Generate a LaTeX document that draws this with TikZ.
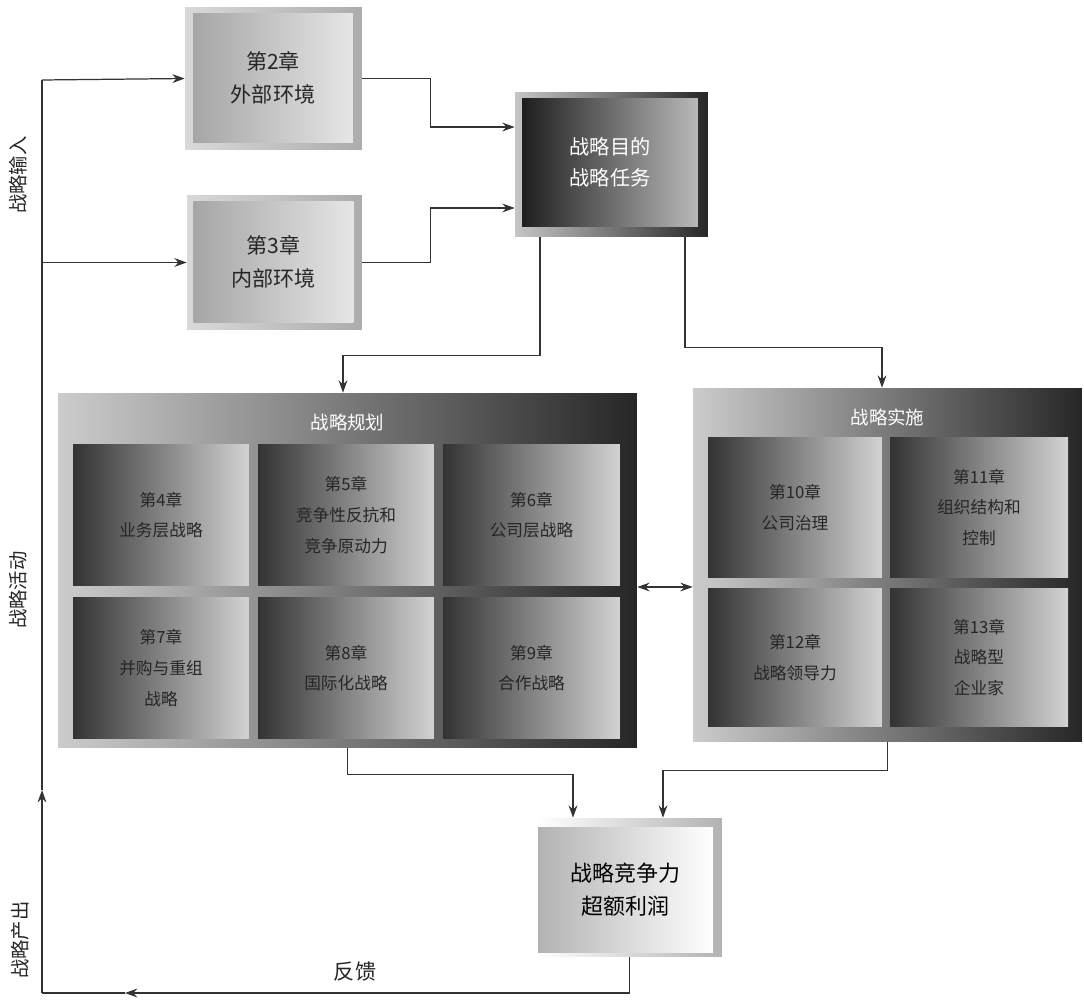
\documentclass[tikz,border=0pt]{standalone}
\usepackage{fontspec}
\setmainfont{Noto Sans CJK SC}
\usetikzlibrary{arrows.meta,positioning}

\begin{document}
\begin{tikzpicture}[x=0.02cm,y=-0.02cm,>={Stealth[length=7pt,width=5pt]},
 conn/.style={draw=black!80,line width=0.7pt},
 chfrm/.style={rectangle,inner sep=0pt,left color=gray!30,right color=gray!65},
 chface/.style={rectangle,inner sep=0pt,align=center,left color=gray!70,right color=gray!20,text=black!85,font=\fontsize{12}{19}\selectfont},
 gfrm/.style={rectangle,inner sep=0pt,left color=gray!45,right color=black!85},
 gface/.style={rectangle,inner sep=0pt,align=center,left color=black!88,right color=gray!55,text=white,font=\fontsize{11.5}{17.5}\selectfont},
 bigfrm/.style={rectangle,inner sep=0pt,left color=gray!40,right color=black!85},
 chapcell/.style={rectangle,inner sep=0pt,align=center,left color=black!80,right color=gray!35,text=black!85,font=\fontsize{9.5}{17.5}\selectfont},
 ttl/.style={text=white,font=\fontsize{10.5}{12}\selectfont},
 rfrm/.style={rectangle,inner sep=0pt,left color=white,right color=gray!60},
 rface/.style={rectangle,inner sep=0pt,align=center,left color=gray!60,right color=white,text=black,font=\fontsize{12.5}{19}\selectfont},
 sidelbl/.style={rotate=90,text=black!85,font=\fontsize{11}{13}\selectfont}]
\useasboundingbox (0,0) rectangle (1084,1000);

% inputs
\node[chfrm,minimum width=3.54cm,minimum height=2.86cm] (ch2) at (273.5,78.5) {};
\node[chface,minimum width=3.2cm,minimum height=2.6cm] at (273,78) {第2章\\外部环境};
\node[chfrm,minimum width=3.5cm,minimum height=2.7cm] (ch3) at (274.5,262.5) {};
\node[chface,minimum width=3.2cm,minimum height=2.44cm] at (273.5,262) {第3章\\内部环境};

\node[gfrm,minimum width=3.86cm,minimum height=2.9cm] (goal) at (611.5,164.5) {};
\node[gface,minimum width=3.52cm,minimum height=2.58cm] at (610,162.5) {战略目的\\战略任务};

% strategy formulation
\node[bigfrm,minimum width=11.58cm,minimum height=7.1cm] (plan) at (347.5,570.5) {};
\node[ttl,below=0.3cm of plan.north] {战略规划};
\node[chapcell,minimum width=3.52cm,minimum height=2.84cm] (c4) at (161,515) {第4章\\业务层战略};
\node[chapcell,minimum width=3.52cm,minimum height=2.84cm] (c5) at (346,515) {第5章\\竞争性反抗和\\竞争原动力};
\node[chapcell,minimum width=3.54cm,minimum height=2.84cm] (c6) at (531.5,515) {第6章\\公司层战略};
\node[chapcell,minimum width=3.52cm,minimum height=2.84cm] (c7) at (161,668) {第7章\\并购与重组\\战略};
\node[chapcell,minimum width=3.52cm,minimum height=2.84cm] (c8) at (346,668) {第8章\\国际化战略};
\node[chapcell,minimum width=3.54cm,minimum height=2.84cm] (c9) at (531.5,668) {第9章\\合作战略};

% strategy implementation
\node[bigfrm,minimum width=7.78cm,minimum height=7.08cm] (impl) at (887.5,565) {};
\node[ttl,below=0.3cm of impl.north] {战略实施};
\node[chapcell,minimum width=3.48cm,minimum height=2.82cm] (c10) at (795,507.5) {第10章\\公司治理};
\node[chapcell,minimum width=3.56cm,minimum height=2.82cm] (c11) at (979,507.5) {第11章\\组织结构和\\控制};
\node[chapcell,minimum width=3.48cm,minimum height=2.78cm] (c12) at (795,657.5) {第12章\\战略领导力};
\node[chapcell,minimum width=3.56cm,minimum height=2.78cm] (c13) at (979,657.5) {第13章\\战略型\\企业家};

% outcome
\node[rfrm,minimum width=3.7cm,minimum height=2.78cm] (res) at (629.5,887.5) {};
\node[rface,minimum width=3.5cm,minimum height=2.5cm] at (625.5,889.5) {战略竞争力\\超额利润};

% left loop
\coordinate (intop) at (42,80);
\coordinate (outtip) at (42,790);
\coordinate (fbend) at (42,993);
\coordinate (fbtip) at (125,993);

\node[sidelbl] (lin) at (18,175) {战略输入};
\node[sidelbl] (lact) at (18,590) {战略活动};
\node[sidelbl] (lout) at (20,940) {战略产出};
\node[font=\fontsize{12}{14}\selectfont,text=black!85] (fbl) at (355,972) {反馈};

\draw[conn,->] (intop) -- (ch2.west);
\draw[conn,->] (intop |- ch3.west) -- (ch3.west);
\draw[conn,->] (ch2.east) -- ++(68,0) |- ([yshift=0.75cm]goal.west);
\draw[conn,->] (ch3.east) -- ++(68,0) |- ([yshift=-0.87cm]goal.west);
\draw[conn,->] ([xshift=-1.43cm]goal.south) -- ++(0,118) -| ([xshift=-0.09cm]plan.north);
\draw[conn,->] ([xshift=1.47cm]goal.south) -- ++(0,110) -| ([xshift=-0.11cm]impl.north);
\draw[conn,<->] ([yshift=-0.33cm]plan.east) coordinate (pa) -- (pa -| impl.west);
\draw[conn,->] (plan.south) -- ++(0,26) -| ([xshift=-1.13cm]res.north);
\draw[conn,->] (impl.south) -- ++(0,28) -| ([xshift=0.67cm]res.north);
\draw[conn,->] (res.south) |- (fbtip);
\draw[conn] (fbtip) -- (fbend);
\draw[conn,->] (fbend) -- (outtip);
\draw[conn] (outtip) -- (intop);
\end{tikzpicture}
\end{document}
